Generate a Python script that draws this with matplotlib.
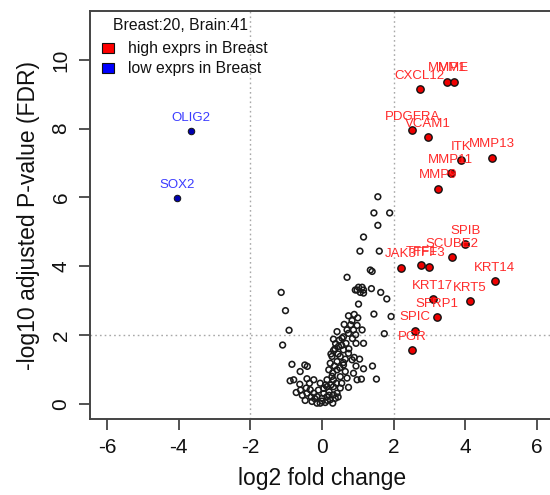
import matplotlib
matplotlib.use("Agg")
import matplotlib.pyplot as plt
from matplotlib.patches import Rectangle

plt.rcParams['font.family'] = ['Liberation Sans', 'DejaVu Sans']

# ---- data ----
up_genes = ["CXCL12", "MMP1", "MME", "PDGFRA", "VCAM1", "MMP13", "ITK", "MMP11", "MMP9",
            "SPIB", "SCUBE2", "JAK3", "TFF1", "TFF3", "KRT14", "KRT17", "KRT5", "SFRP1",
            "SPIC", "PGR"]
up_x = [2.73, 3.49, 3.68, 2.52, 2.95, 4.75, 3.89, 3.60, 3.23,
        4.00, 3.63, 2.20, 2.77, 3.00, 4.82, 3.09, 4.13, 3.20,
        2.59, 2.52]
up_y = [9.14, 9.37, 9.37, 7.95, 7.76, 7.16, 7.08, 6.71, 6.26,
        4.64, 4.26, 3.96, 4.03, 3.99, 3.57, 3.04, 2.99, 2.52,
        2.13, 1.56]

down_genes = ["OLIG2", "SOX2"]
down_x = [-3.67, -4.05]
down_y = [7.94, 5.98]

ns_x = [1.56, 1.45, 1.89, 1.56, 1.16, 1.06, 1.60, 1.35, 1.40, 0.70,
        1.02, 1.12, 0.98, 1.16, 1.07, 0.93, 1.16, 1.38, 1.64, -1.14,
        1.81, -1.02, 1.02, 1.45, 1.93, -0.92, -1.10, 1.74, 0.74, 0.62,
        0.84, 0.98, 0.88, 1.12, 0.74, 0.94, 0.42, 0.32, 0.56, 0.67,
        0.95, 1.16, 0.46, 0.60, 0.32, 0.28, 0.51, 0.74, 0.23, 0.42,
        0.60, 0.84, -0.84, -0.48, -0.41, -0.61, 0.19, 0.42, 0.65, 0.88,
        1.16, 1.41, -0.89, -0.79, -0.62, -0.42, -0.23, -0.44, -0.33, -0.72,
        -0.42, -0.23, -0.05, 0.14, 0.32, 0.51, 0.70, 0.98, 1.10, 1.52,
        0.14, 0.32, 0.51, 0.74, -0.14, 0.00, 0.14, 0.32, 0.42, -0.47,
        -0.28, -0.14, -0.05, 0.09, 0.23, 0.37,
        -0.20, 0.05, 0.20, 0.25, 0.40, 0.05, -0.10, 0.30, 0.35, 0.50,
        0.45, 0.55, 0.60, 0.70, 0.80, 0.65, 0.55, 0.60, -0.55, -0.35,
        -0.60, 0.15, 0.00, 0.30, 0.45, 0.25, 0.38, 0.90, 1.00, 0.85,
        0.75, 0.90, 1.05, 0.95, 0.28, 0.36, 0.48, 0.20, 0.10, -0.30]
ns_y = [6.02, 5.55, 5.55, 5.19, 4.85, 4.44, 4.44, 3.89, 3.85, 3.68,
        3.39, 3.39, 3.31, 3.31, 3.24, 3.31, 3.22, 3.35, 3.24, 3.24,
        3.05, 2.71, 2.90, 2.61, 2.54, 2.14, 1.71, 2.04, 2.56, 2.31,
        2.42, 2.28, 2.15, 2.15, 2.05, 2.01, 2.10, 1.88, 1.91, 1.76,
        1.76, 1.76, 1.67, 1.57, 1.55, 1.38, 1.38, 1.47, 1.18, 1.23,
        1.13, 1.28, 1.15, 1.13, 1.09, 0.94, 0.99, 0.99, 0.94, 0.89,
        1.02, 1.10, 0.67, 0.70, 0.57, 0.73, 0.70, 0.46, 0.41, 0.33,
        0.31, 0.31, 0.60, 0.70, 0.70, 0.79, 0.75, 0.70, 0.72, 0.72,
        0.50, 0.50, 0.46, 0.48, 0.21, 0.16, 0.21, 0.26, 0.31, 0.10,
        0.07, 0.02, 0.02, 0.04, 0.12, 0.16,
        0.15, 0.30, 0.35, 0.55, 0.60, 0.45, 0.40, 0.90, 1.10, 1.05,
        1.45, 1.70, 1.95, 2.15, 2.30, 1.30, 0.60, 1.20, 0.25, 0.60,
        0.40, 0.10, 0.08, 0.02, 0.20, 1.45, 1.75, 2.60, 2.50, 1.90,
        1.60, 1.35, 1.30, 1.10, 0.80, 1.60, 1.85, 0.25, 0.55, 0.20]

legend_title = "Breast:20, Brain:41"
legend_labels = ["high exprs in Breast", "low exprs in Breast"]
x_ticks = [-6, -4, -2, 0, 2, 4, 6]
y_ticks = [0, 2, 4, 6, 8, 10]
fc_cut = 2
p_cut = 2

# ---- figure ----
W, H = 550, 495
fig = plt.figure(figsize=(W / 100, H / 100), dpi=100)
ax = fig.add_axes([90 / W, 1 - 419 / H, (554 - 90) / W, (419 - 11) / H])
ax.set_xlim(-6.48, 6.48)
ax.set_ylim(-0.44, 11.42)

grid_kw = dict(color="#a8a8a8", linestyle=(0, (1.2, 2.2)), linewidth=1.0, zorder=1)
ax.axvline(-fc_cut, **grid_kw)
ax.axvline(fc_cut, **grid_kw)
ax.axhline(p_cut, **grid_kw)

ax.scatter(ns_x, ns_y, s=17, facecolors="none", edgecolors="#1a1a1a", linewidths=1.15, zorder=2)
ax.scatter(up_x, up_y, s=28, c="#ee0000", edgecolors="#111111", linewidths=1.0, zorder=3)
ax.scatter(down_x, down_y, s=22, c="#0000b0", edgecolors="#111111", linewidths=0.7, zorder=3)

for g, x, y in zip(up_genes, up_x, up_y):
    ax.annotate(g, (x, y), xytext=(0, 9.5), textcoords="offset points",
                ha="center", va="center", color="#ff2a2a", fontsize=9.5, zorder=4)
for g, x, y in zip(down_genes, down_x, down_y):
    ax.annotate(g, (x, y), xytext=(0, 9.5), textcoords="offset points",
                ha="center", va="center", color="#3b3bff", fontsize=9.5, zorder=4)

ax.set_xticks(x_ticks)
ax.set_yticks(y_ticks)
ax.set_xticklabels([str(t) for t in x_ticks])
ax.set_yticklabels([str(t) for t in y_ticks], rotation=90, va="center")
ax.tick_params(axis="both", length=8, width=1.3, color="#444444", labelsize=15, labelcolor="#111111")
ax.tick_params(axis="x", pad=6)
ax.tick_params(axis="y", pad=6)
for side in ["left", "bottom", "top"]:
    ax.spines[side].set_color("#444444")
    ax.spines[side].set_linewidth(1.4)
ax.spines["right"].set_visible(False)

ax.set_xlabel("log2 fold change", fontsize=16.5, color="#111111", labelpad=7)
ax.set_ylabel("-log10 adjusted P-value (FDR)", fontsize=16.5, color="#111111", labelpad=8)

# legend (manual, figure pixel coords)
def fx(px):
    return px / W

def fy(py):
    return 1 - py / H

fig.text(fx(113), fy(25), legend_title, fontsize=11.3, ha="left", va="center", color="#111111")
for i, (lab, col) in enumerate(zip(legend_labels, ["#ff0000", "#0000ff"])):
    yc = 48 + i * 20
    fig.patches.append(Rectangle((fx(102), fy(yc + 5)), 12 / W, 10 / H, transform=fig.transFigure,
                                 facecolor=col, edgecolor="#111111", linewidth=0.8))
    fig.text(fx(128), fy(yc), lab, fontsize=11.3, ha="left", va="center", color="#111111")

fig.savefig("out.png", dpi=100)
